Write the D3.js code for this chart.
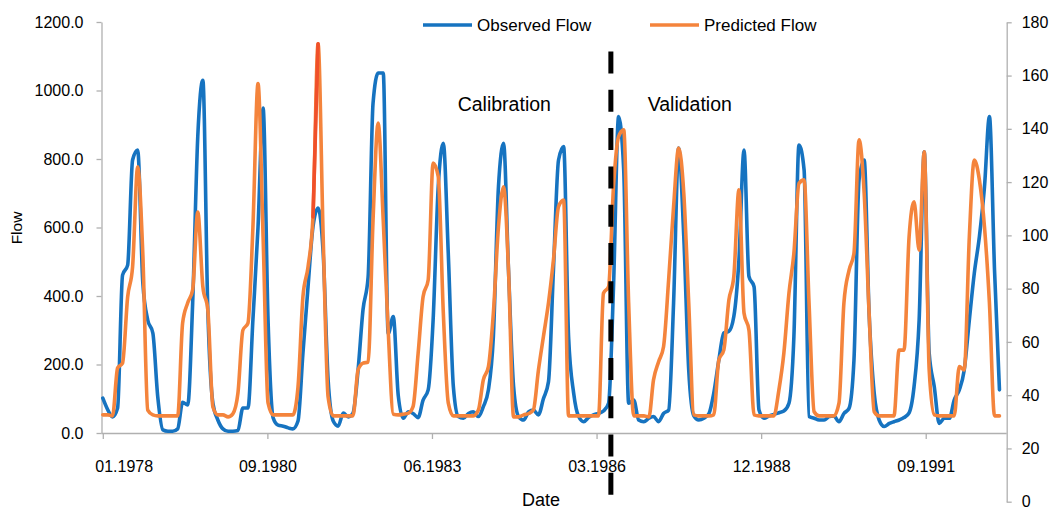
<!DOCTYPE html>
<html>
<head>
<meta charset="utf-8">
<script src="https://cdn.jsdelivr.net/npm/d3@7/dist/d3.min.js"></script>
<style>
  html, body { margin: 0; padding: 0; background: #fff; }
  svg { display: block; }
  text { font-family: "Liberation Sans", Arial, Helvetica, sans-serif; fill: #000; }
</style>
</head>
<body>
<div id="chart"></div>
<script>
// ---- Data (monthly, Jan 1978 - Dec 1992) ----
const startMonth = "1978-01-01";
const endMonth = "1993-01-01";
const observedFlow = [
  102, 67, 47, 73, 461, 490, 797, 826, 440, 330, 292, 105,   // 1978
  9, 5, 5, 12, 90, 82, 380, 865, 1030, 360, 87, 38,          // 1979
  12, 5, 5, 7, 73, 73, 330, 600, 949, 330, 44, 23,           // 1980
  20, 15, 12, 35, 233, 427, 602, 657, 525, 155, 35, 20,      // 1981
  58, 47, 58, 184, 360, 455, 963, 1051, 1051, 290, 340, 110, // 1982
  43, 62, 57, 45, 96, 126, 330, 719, 846, 525, 135, 48,      // 1983
  43, 57, 62, 48, 77, 126, 281, 719, 846, 476, 135, 48,      // 1984
  38, 62, 67, 53, 100, 150, 476, 797, 836, 281, 116, 48,     // 1985
  33, 46, 53, 57, 64, 87, 427, 924, 768, 87, 96, 38,         // 1986
  33, 43, 48, 33, 57, 67, 380, 832, 573, 184, 50, 38,        // 1987
  43, 57, 116, 213, 292, 297, 340, 505, 826, 457, 427, 67,   // 1988
  43, 50, 54, 59, 64, 87, 281, 841, 768, 48, 43, 38,         // 1989
  38, 48, 50, 33, 57, 72, 213, 739, 797, 350, 116, 38,       // 1990
  19, 28, 33, 38, 45, 59, 135, 330, 821, 233, 135, 28,       // 1991
  43, 43, 96, 126, 184, 330, 466, 573, 719, 924, 476, 126    // 1992
];
const predictedFlow = [
  53, 53, 50, 190, 204, 397, 485, 777, 525, 67, 53, 50,      // 1978
  50, 50, 50, 50, 321, 380, 418, 645, 427, 360, 76, 53,      // 1979
  53, 47, 56, 116, 300, 321, 600, 1020, 572, 88, 53, 53,     // 1980
  53, 53, 53, 134, 398, 485, 631, 1136, 572, 105, 50, 50,    // 1981
  50, 50, 50, 184, 204, 207, 622, 905, 620, 300, 55, 53,     // 1982
  55, 58, 77, 233, 398, 447, 788, 749, 350, 88, 50, 50,      // 1983
  50, 50, 50, 67, 155, 194, 350, 602, 719, 476, 47, 47,      // 1984
  53, 57, 67, 184, 281, 380, 505, 661, 680, 50, 50, 50,      // 1985
  50, 50, 50, 50, 408, 427, 719, 865, 885, 380, 50, 50,      // 1986
  50, 47, 155, 208, 252, 447, 661, 832, 700, 380, 53, 50,    // 1987
  50, 50, 53, 213, 242, 388, 457, 710, 350, 300, 53, 50,     // 1988
  50, 50, 50, 126, 233, 408, 525, 729, 739, 380, 62, 50,     // 1989
  50, 50, 50, 87, 380, 475, 525, 856, 700, 350, 62, 50,      // 1990
  50, 50, 50, 242, 242, 573, 675, 534, 821, 184, 53, 50,     // 1991
  50, 50, 50, 194, 184, 573, 797, 739, 602, 380, 50, 50      // 1992
];
// highlighted (red) rising segment of the predicted series, month indices
const highlightIdx = [42, 43];
const xTickDayOffsets = [0, 1000, 2000, 3000, 4000, 5000];
const xTickLabels = ["01.1978", "09.1980", "06.1983", "03.1986", "12.1988", "09.1991"];
const yLeftTicks = [0, 200, 400, 600, 800, 1000, 1200];
const yRightTicks = [0, 20, 40, 60, 80, 100, 120, 140, 160, 180];
const splitDate = "1986-06-15";
const seriesNames = ["Observed Flow", "Predicted Flow"];
const colors = { obs: "#1673c0", pred: "#f4843c", highlight: "#f0502a" };

// ---- Layout ----
const W = 1051, H = 511;
const plotL = 101.5, plotR = 1006.7, plotT = 22, plotB = 433;
const axisGray = "#b0b0b0";

const parse = d3.utcParse("%Y-%m-%d");
const months = d3.utcMonth.range(parse(startMonth), parse(endMonth));
const t0 = parse(startMonth);

const x = d3.scaleUtc()
  .domain([t0, parse("1993-01-14")])
  .range([102.8, plotR]);
const yL = d3.scaleLinear().domain([0, 1200]).range([plotB, plotT]);
const yR = d3.scaleLinear().domain([0, 180]).range([501.7, 22.3]);

const svg = d3.select("#chart").append("svg").attr("width", W).attr("height", H);

// ---- Axes ----
const gL = svg.append("g").attr("transform", `translate(${plotL},0)`)
  .call(d3.axisLeft(yL).tickValues(yLeftTicks).tickFormat(d3.format(".1f"))
    .tickSize(5).tickSizeOuter(0).tickPadding(13));
const gR = svg.append("g").attr("transform", `translate(${plotR},0)`)
  .call(d3.axisRight(yR).tickValues(yRightTicks).tickSize(5).tickSizeOuter(0).tickPadding(10));

const tickDates = xTickDayOffsets.map(d => d3.utcDay.offset(t0, d));
const gB = svg.append("g").attr("transform", `translate(0,${plotB})`)
  .call(d3.axisBottom(x).tickValues(tickDates)
    .tickFormat((d, i) => xTickLabels[i]).tickSize(6).tickSizeOuter(0).tickPadding(22));
gB.select(".domain").remove();
svg.append("line").attr("x1", plotL).attr("x2", plotR).attr("y1", plotB + 0.5).attr("y2", plotB + 0.5)
  .attr("stroke", axisGray).attr("stroke-width", 1.3);
// first label sits right of its tick, as in the original
gB.select(".tick text").attr("text-anchor", "start").attr("dx", -8);

[gL, gR, gB].forEach(g => {
  g.selectAll(".domain").attr("stroke", axisGray).attr("stroke-width", 1.3);
  g.selectAll(".tick line").attr("stroke", axisGray).attr("stroke-width", 1.3);
  g.selectAll(".tick text").style("font-size", "16px").attr("fill", "#000");
});

// ---- Lines ----
const line = (ys) => d3.line()
  .x((d, i) => x(months[i]))
  .y(d => yL(d))
  .curve(d3.curveMonotoneX)(ys);

svg.append("path").attr("d", line(observedFlow))
  .attr("fill", "none").attr("stroke", colors.obs).attr("stroke-width", 3.6)
  .attr("stroke-linejoin", "round").attr("stroke-linecap", "round");
svg.append("path").attr("d", line(predictedFlow))
  .attr("fill", "none").attr("stroke", colors.pred).attr("stroke-width", 3.6)
  .attr("stroke-linejoin", "round").attr("stroke-linecap", "round");
svg.append("path")
  .attr("d", d3.line().x(i => x(months[i])).y(i => yL(predictedFlow[i]))(highlightIdx))
  .attr("fill", "none").attr("stroke", colors.highlight).attr("stroke-width", 3.6)
  .attr("stroke-linecap", "round");

// ---- Split line ----
const xs = x(parse(splitDate));
svg.append("line").attr("x1", xs).attr("x2", xs).attr("y1", 51.5).attr("y2", 497)
  .attr("stroke", "#000").attr("stroke-width", 5).attr("stroke-dasharray", "22 16.3");

// ---- Annotations ----
svg.append("text").attr("x", 457.7).attr("y", 110.5).style("font-size", "19.5px").text("Calibration");
svg.append("text").attr("x", 647.7).attr("y", 110.5).style("font-size", "19.5px").text("Validation");

// ---- Axis titles ----
svg.append("text").attr("transform", "rotate(-90)").attr("x", -228).attr("y", 21.5)
  .attr("text-anchor", "middle").style("font-size", "15.5px").text("Flow");
svg.append("text").attr("x", 541).attr("y", 506).attr("text-anchor", "middle")
  .style("font-size", "18px").text("Date");

// ---- Legend ----
const legend = [
  { name: seriesNames[0], color: colors.obs, x1: 423, x2: 472, tx: 477 },
  { name: seriesNames[1], color: colors.pred, x1: 650, x2: 699, tx: 704 }
];
legend.forEach(l => {
  svg.append("line").attr("x1", l.x1).attr("x2", l.x2).attr("y1", 25).attr("y2", 25)
    .attr("stroke", l.color).attr("stroke-width", 3.6);
  svg.append("text").attr("x", l.tx).attr("y", 31.3).style("font-size", "17px").text(l.name);
});
</script>
</body>
</html>
